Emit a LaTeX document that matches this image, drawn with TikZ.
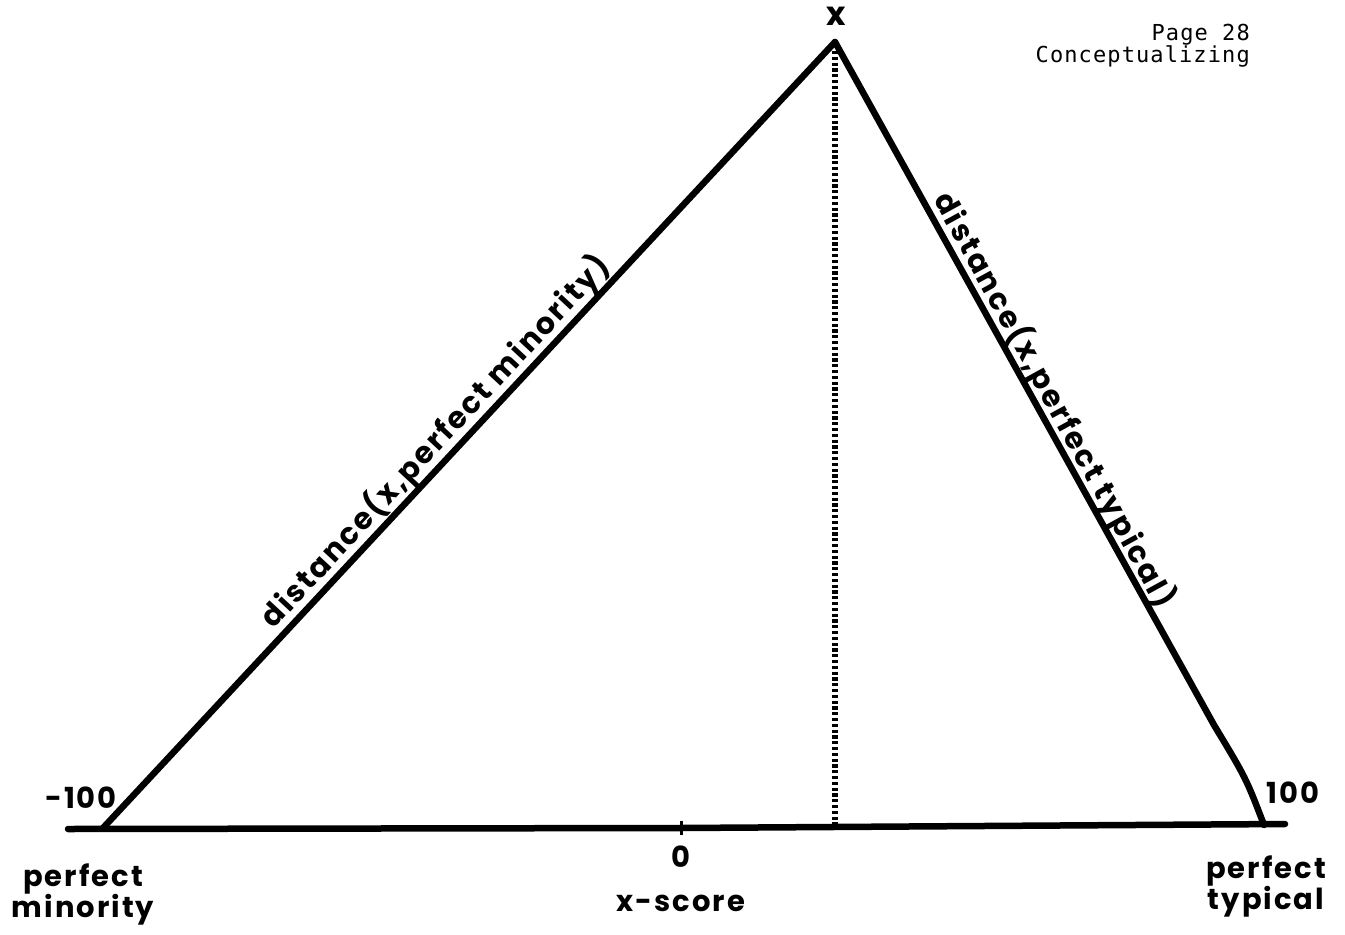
\documentclass[tikz,border=0pt]{standalone}
\usepackage{fontspec}
\setmainfont{Poppins}[BoldFont={* Bold}, LetterSpace=7]
\newfontfamily\pagefont{DejaVu Sans Mono}[LetterSpace=5]
\usetikzlibrary{positioning, calc}

\begin{document}
\begin{tikzpicture}[x=1pt, y=-1pt,
    axisline/.style={line width=6.5pt, color=black, line cap=round},
    dotline/.style={line width=6pt, dash pattern=on 3.2pt off 2.6pt},
    lbl/.style={font=\fontsize{29}{31}\selectfont\bfseries, inner sep=1pt, align=center},
    sidelbl/.style={font=\fontsize{30}{31}\selectfont\bfseries, inner sep=2pt}
]
\useasboundingbox (0,0) rectangle (1345,935);
% points of the triangle
\coordinate (axl) at (68,829);
\coordinate (axr) at (1285,824);
\coordinate (pm) at (103,828);
\coordinate (zero) at (681,828);
\coordinate (foot) at (835,826);
\coordinate (apex) at (835,42);
\coordinate (pt) at (1264,825);
% lines
\draw[axisline] (axl) -- (zero) -- (axr);
\draw[axisline] (pm) -- (apex);
\draw[axisline, line join=round] (apex) -- (1214,725) .. controls (1246,778) .. (pt);
\draw[line width=3pt] ($(zero)+(0,-7)$) -- ($(zero)+(0,7)$);
\draw[dotline] ($(apex)+(0,9)$) -- (foot);
% labels
\node[lbl, font=\fontsize{33}{33}\selectfont\bfseries] (xlab) at (836,16) {x};
\node[lbl] (m100) at (81,798) {-100};
\node[lbl] (p100) at (1293,793) {100};
\node[lbl] (zlab) at (681,857) {0};
\node[lbl] (xscore) at (681,903) {x-score};
\node[lbl] (pmin) at (83,894) {perfect\\minority};
\node[lbl] (ptyp) at (1266,886) {perfect\\typical};
\path (pm) -- (apex) node[sidelbl, pos=0.474, sloped, above] (dmin) {distance(x,perfect minority)};
\path (apex) -- (pt) node[sidelbl, pos=0.47, sloped, above] (dtyp) {distance(x,perfect typical)};
\node[font=\pagefont\fontsize{22}{22}\selectfont, align=right, anchor=north east, inner sep=0pt] (page) at (1250,24) {Page 28\\Conceptualizing};
\end{tikzpicture}
\end{document}
